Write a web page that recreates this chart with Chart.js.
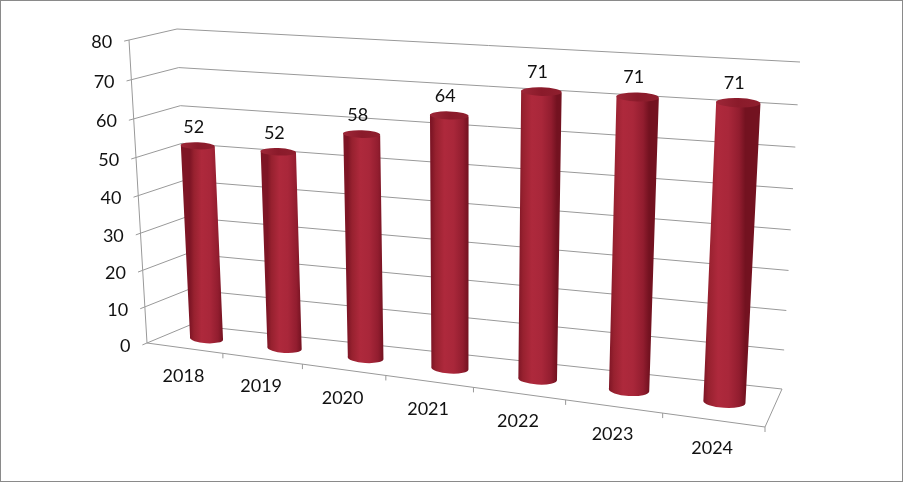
<!DOCTYPE html>
<html>
<head>
<meta charset="utf-8">
<script src="https://cdn.jsdelivr.net/npm/chart.js@4.4.1/dist/chart.umd.min.js"></script>
<style>
  html, body { margin: 0; padding: 0; background: #fff; }
  #wrap { width: 904px; height: 483px; }
</style>
</head>
<body>
<div id="wrap"><canvas id="chart" width="904" height="483"></canvas></div>
<script>
const years = ['2018', '2019', '2020', '2021', '2022', '2023', '2024'];
const values = [52, 52, 58, 64, 71, 71, 71];
const yTicks = [0, 10, 20, 30, 40, 50, 60, 70, 80];

// Wall corners on screen: bottom-left, bottom-right, top-right, top-left
const frontWall = [[147, 343], [765, 427], [785, 68], [129, 40]];
const backWall = [[190, 325], [782, 389], [800, 62], [177, 29]];
const barDepth = 0.5;   // cylinders stand half way into the floor
const gridColor = '#999999';
const font = '18px Lato, "Open Sans", sans-serif';

// unit square -> quad (projective)
function makeQuad(q) {
    const [x0, y0] = q[0], [x1, y1] = q[1], [x2, y2] = q[2], [x3, y3] = q[3];
    const dx1 = x1 - x2, dx2 = x3 - x2, dx3 = x0 - x1 + x2 - x3;
    const dy1 = y1 - y2, dy2 = y3 - y2, dy3 = y0 - y1 + y2 - y3;
    const den = dx1 * dy2 - dx2 * dy1;
    const g = (dx3 * dy2 - dx2 * dy3) / den;
    const h = (dx1 * dy3 - dx3 * dy1) / den;
    const a = x1 - x0 + g * x1, b = x3 - x0 + h * x3, c = x0;
    const d = y1 - y0 + g * y1, e = y3 - y0 + h * y3, f = y0;
    return (u, v) => {
        const w = g * u + h * v + 1;
        return [(a * u + b * v + c) / w, (d * u + e * v + f) / w];
    };
}
const front = makeQuad(frontWall);
const back = makeQuad(backWall);
function P(u, v, w) {
    const p = front(u, v), q = back(u, v);
    return [p[0] + (q[0] - p[0]) * w, p[1] + (q[1] - p[1]) * w];
}

function line(ctx, pts) {
    ctx.beginPath();
    ctx.moveTo(pts[0][0], pts[0][1]);
    for (let i = 1; i < pts.length; i++) ctx.lineTo(pts[i][0], pts[i][1]);
    ctx.stroke();
}

const perspective = {
    id: 'perspective',
    beforeDatasetsDraw(chart) {
        const ctx = chart.ctx, area = chart.chartArea;
        const xs = chart.scales.x, ys = chart.scales.y;
        const vOf = val => (area.bottom - ys.getPixelForValue(val)) / area.height;
        const uOf = px => (px - area.left) / area.width;

        ctx.save();
        ctx.strokeStyle = gridColor;
        ctx.lineWidth = 1;
        ctx.fillStyle = '#111';
        ctx.font = font;

        // grid lines on left and back walls, y ticks and labels
        yTicks.forEach(t => {
            const v = vOf(t);
            const a = front(0, v), b = back(0, v), c = back(1, v);
            line(ctx, [a, b, c]);
            const dx = a[0] - b[0], dy = a[1] - b[1], len = Math.hypot(dx, dy);
            const tk = [a[0] + dx / len * 5, a[1] + dy / len * 5];
            line(ctx, [tk, a]);
            ctx.textAlign = 'right';
            ctx.textBaseline = 'middle';
            ctx.fillText(String(t), tk[0] - 12, tk[1] + 1);
        });

        // value axis and floor
        line(ctx, [front(0, 0), front(0, 1)]);
        line(ctx, [front(0, 0), front(1, 0), back(1, 0)]);

        // category ticks and labels
        const step = xs.getPixelForValue(1) - xs.getPixelForValue(0);
        for (let i = 1; i <= years.length; i++) {
            const p = front(uOf(xs.getPixelForValue(i) - step / 2), 0);
            line(ctx, [p, [p[0], p[1] + 5]]);
        }
        years.forEach((y, i) => {
            const p = front(uOf(xs.getPixelForValue(i)), 0);
            ctx.textAlign = 'center';
            ctx.textBaseline = 'middle';
            ctx.fillText(y, p[0] - 1, p[1] + 28);
        });
        ctx.restore();
    },
    afterDatasetsDraw(chart) {
        const ctx = chart.ctx, area = chart.chartArea;
        const meta = chart.getDatasetMeta(0);
        ctx.save();
        meta.data.forEach((bar, i) => {
            const uc = (bar.x - area.left) / area.width;
            const hw = bar.width / 2 / area.width;
            const vt = (area.bottom - bar.y) / area.height;
            const vb = (area.bottom - bar.base) / area.height;
            const bl = P(uc - hw, vb, barDepth), br = P(uc + hw, vb, barDepth);
            const tl = P(uc - hw, vt, barDepth), tr = P(uc + hw, vt, barDepth);
            const tc = [(tl[0] + tr[0]) / 2, (tl[1] + tr[1]) / 2];
            const bc = [(bl[0] + br[0]) / 2, (bl[1] + br[1]) / 2];
            const rxT = Math.hypot(tr[0] - tl[0], tr[1] - tl[1]) / 2;
            const rxB = Math.hypot(br[0] - bl[0], br[1] - bl[1]) / 2;
            const angT = Math.atan2(tr[1] - tl[1], tr[0] - tl[0]) * 0.5;
            const angB = Math.atan2(br[1] - bl[1], br[0] - bl[0]) * 0.5;
            const ryT = rxT * 0.21, ryB = rxB * 0.28;

            // body
            const grad = ctx.createLinearGradient(bl[0], 0, br[0], 0);
            grad.addColorStop(0, '#7e1525');
            grad.addColorStop(0.12, '#97212f');
            grad.addColorStop(0.35, '#ae293c');
            grad.addColorStop(0.6, '#a9273a');
            grad.addColorStop(0.85, '#921d2f');
            grad.addColorStop(1, '#731220');
            ctx.beginPath();
            ctx.moveTo(tl[0], tl[1]);
            ctx.lineTo(bl[0], bl[1]);
            ctx.ellipse(bc[0], bc[1], rxB, ryB, angB, Math.PI, 0, true);
            ctx.lineTo(tr[0], tr[1]);
            ctx.closePath();
            ctx.fillStyle = grad;
            ctx.fill();

            // top face
            const tg = ctx.createLinearGradient(tl[0], 0, tr[0], 0);
            tg.addColorStop(0, '#9e2738');
            tg.addColorStop(0.5, '#8a1a2a');
            tg.addColorStop(1, '#8f1f2e');
            ctx.beginPath();
            ctx.ellipse(tc[0], tc[1], rxT, ryT, angT, 0, Math.PI * 2);
            ctx.fillStyle = tg;
            ctx.fill();

            // value label
            ctx.fillStyle = '#111';
            ctx.font = font;
            ctx.textAlign = 'center';
            ctx.textBaseline = 'middle';
            ctx.fillText(String(values[i]), tc[0] - 4, tc[1] - ryT - 15);
        });
        ctx.restore();
    },
    afterDraw(chart) {
        const ctx = chart.ctx;
        ctx.save();
        ctx.strokeStyle = '#8a8a8a';
        ctx.lineWidth = 1;
        ctx.strokeRect(0.5, 0.5, 902, 481);
        ctx.restore();
    }
};

new Chart(document.getElementById('chart'), {
    type: 'bar',
    data: {
        labels: years,
        datasets: [{
            data: values,
            backgroundColor: 'rgba(0,0,0,0)',
            borderWidth: 0,
            categoryPercentage: 1,
            barPercentage: 0.43
        }]
    },
    options: {
        responsive: false,
        animation: false,
        layout: { padding: 0 },
        plugins: { legend: { display: false }, tooltip: { enabled: false } },
        scales: {
            x: { display: false },
            y: { display: false, min: 0, max: 80, ticks: { stepSize: 10 } }
        }
    },
    plugins: [perspective]
});
</script>
</body>
</html>
